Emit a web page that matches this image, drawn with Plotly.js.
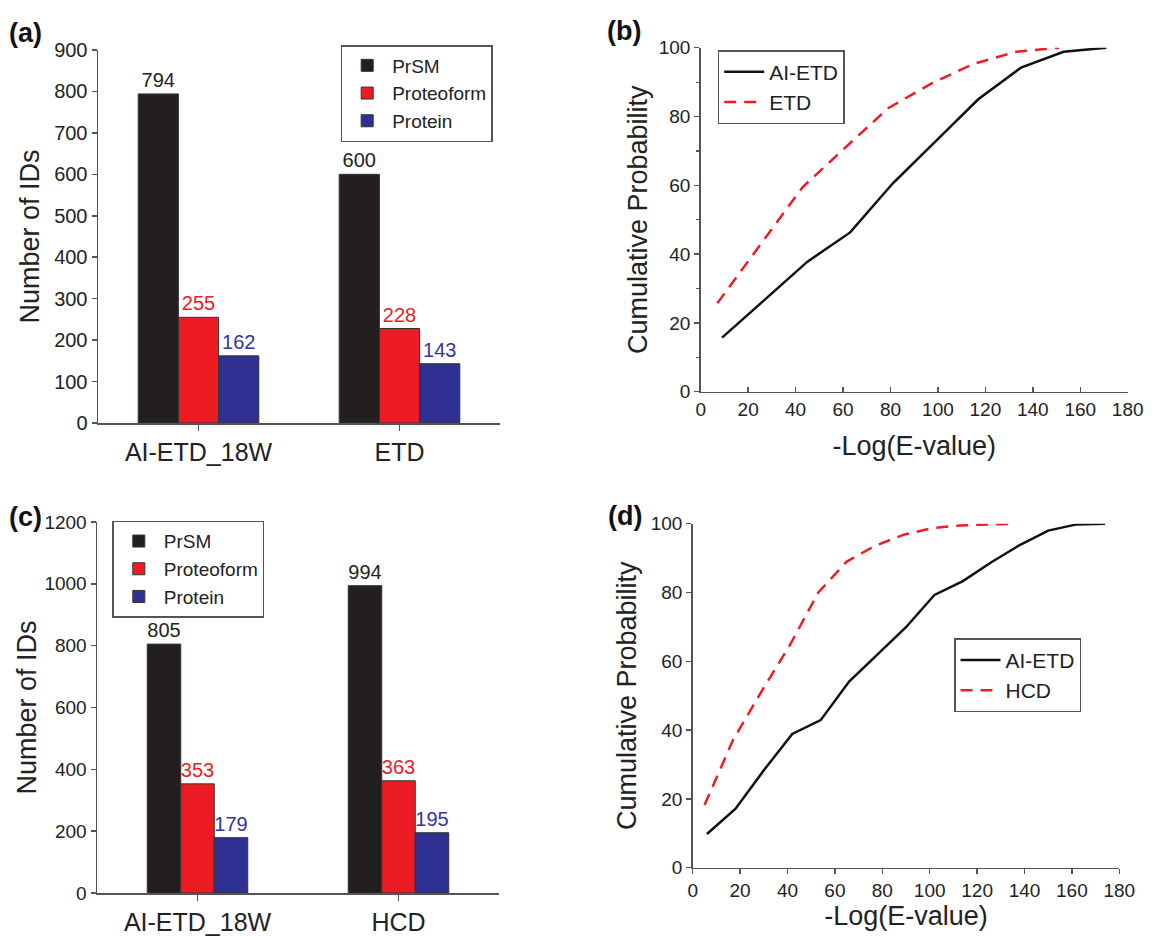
<!DOCTYPE html>
<html>
<head>
<meta charset="utf-8">
<script src="https://cdn.plot.ly/plotly-3.0.1.min.js"></script>
<style>html,body{margin:0;padding:0;background:#fff;}#chart{width:1152px;height:937px;}</style>
</head>
<body>
<div id="chart"></div>
<script>
// ---- Data: panels (a) and (c) bar counts ----
const catsA = ['AI-ETD_18W', 'ETD'];
const prsmA = [794, 600];
const proteoformA = [255, 228];
const proteinA = [162, 143];

const catsC = ['AI-ETD_18W', 'HCD'];
const prsmC = [805, 994];
const proteoformC = [353, 363];
const proteinC = [179, 195];

// ---- Data: panel (b) cumulative probability ----
const bAietdX = [9, 27, 45, 63, 81, 99, 117, 135, 153, 171];
const bAietdY = [15.7, 26.8, 37.8, 46.3, 60.6, 72.8, 85.0, 94.2, 98.8, 100];
const bEtdX = [7, 25, 43, 61, 79, 97, 115, 133, 151];
const bEtdY = [25.7, 42.6, 59.5, 71.0, 82.4, 89.5, 95.3, 98.8, 100];

// ---- Data: panel (d) cumulative probability ----
const dAietdX = [6, 18, 30, 42, 54, 66, 78, 90, 102, 114, 126, 138, 150, 162, 174];
const dAietdY = [9.8, 17.1, 28.3, 38.9, 42.9, 54.1, 62.0, 69.9, 79.3, 83.3, 88.8, 93.8, 98.0, 99.8, 100];
const dHcdX = [5, 17, 29, 41, 53, 65, 77, 89, 101, 113, 125, 136];
const dHcdY = [18.2, 37.1, 51.2, 64.7, 80.0, 89.0, 93.6, 96.8, 98.7, 99.5, 99.8, 100];

const FONT = 'Liberation Sans, Arial, Helvetica, sans-serif';
const BLACK = '#231f20', RED = '#ed1c24', BLUE = '#2e3192';
const W = 1152, H = 937;

function barTrace(cats, vals, name, color, textColor, xa, ya, lg, width, offset) {
  return {
    type: 'bar', x: cats, y: vals, name: name, xaxis: xa, yaxis: ya, legend: lg,
    width: width, offset: offset,
    marker: {color: color, line: {color: '#333', width: 1}},
    text: vals.map(String), textposition: 'outside', constraintext: 'none', cliponaxis: false,
    textfont: {family: FONT, size: 20, color: textColor}, hoverinfo: 'x+y'
  };
}

const traces = [
  barTrace(catsA, prsmA, 'PrSM', BLACK, BLACK, 'x', 'y', 'legend', 0.2, -0.3),
  barTrace(catsA, proteoformA, 'Proteoform', RED, RED, 'x', 'y', 'legend', 0.2, -0.1),
  barTrace(catsA, proteinA, 'Protein', BLUE, '#34349c', 'x', 'y', 'legend', 0.2, 0.1),
  barTrace(catsC, prsmC, 'PrSM', BLACK, BLACK, 'x3', 'y3', 'legend3', 1/6, -0.25),
  barTrace(catsC, proteoformC, 'Proteoform', RED, RED, 'x3', 'y3', 'legend3', 1/6, -1/12),
  barTrace(catsC, proteinC, 'Protein', BLUE, '#34349c', 'x3', 'y3', 'legend3', 1/6, 1/12),
  {type: 'scatter', mode: 'lines', x: bAietdX, y: bAietdY, name: 'AI-ETD', xaxis: 'x2', yaxis: 'y2', legend: 'legend2',
   line: {color: '#111', width: 2.5}},
  {type: 'scatter', mode: 'lines', x: bEtdX, y: bEtdY, name: 'ETD', xaxis: 'x2', yaxis: 'y2', legend: 'legend2',
   line: {color: '#ee1c25', width: 2.5, dash: '12px,8px'}},
  {type: 'scatter', mode: 'lines', x: dAietdX, y: dAietdY, name: 'AI-ETD', xaxis: 'x4', yaxis: 'y4', legend: 'legend4',
   line: {color: '#111', width: 2.5}},
  {type: 'scatter', mode: 'lines', x: dHcdX, y: dHcdY, name: 'HCD', xaxis: 'x4', yaxis: 'y4', legend: 'legend4',
   line: {color: '#ee1c25', width: 2.5, dash: '12px,8px'}}
];

function axisBase(extra) {
  return Object.assign({
    showline: true, linecolor: '#555', linewidth: 1.5, mirror: false,
    ticks: 'outside', ticklen: 5, tickwidth: 1.5, tickcolor: '#555',
    showgrid: false, zeroline: false, fixedrange: true,
    tickfont: {family: FONT, size: 20, color: '#222'}
  }, extra);
}
const px = v => v / W;
const py = v => 1 - v / H;

function legendBox(x, y, size) {
  return {x: x, y: y, xanchor: 'left', yanchor: 'top', bgcolor: '#fff', bordercolor: '#555', borderwidth: 1.5,
    font: {family: FONT, size: size, color: '#222'}, tracegroupgap: 0, itemwidth: 40, traceorder: 'normal'};
}

const titleFont = {family: FONT, size: 27, color: '#222'};

const layout = {
  width: W, height: H, margin: {l: 0, r: 0, t: 0, b: 0}, paper_bgcolor: '#fff', plot_bgcolor: '#fff',
  font: {family: FONT, color: '#222'},
  barmode: 'group', showlegend: true,
  // (a)
  xaxis: axisBase({anchor: 'y', domain: [px(98), px(500)], type: 'category', range: [-0.5, 1.5], ticklen: 6,
    tickfont: {family: FONT, size: 25, color: '#222'}}),
  yaxis: axisBase({anchor: 'x', domain: [py(423), py(50)], range: [0, 900], dtick: 100,
    title: {text: 'Number of IDs', font: titleFont, standoff: 6}}),
  // (b)
  xaxis2: axisBase({anchor: 'y2', domain: [px(700.7), px(1127.7)], range: [0, 180], dtick: 20, ticks: 'inside',
    tickfont: {family: FONT, size: 19, color: '#222'},
    title: {text: '-Log(E-value)', font: titleFont, standoff: 17}}),
  yaxis2: axisBase({anchor: 'x2', domain: [py(391.7), py(47.7)], range: [0, 100], dtick: 20,
    tickfont: {family: FONT, size: 19, color: '#222'},
    minor: {ticks: 'outside', dtick: 10, ticklen: 3, tickwidth: 1.2, tickcolor: '#555'},
    title: {text: 'Cumulative Probability', font: titleFont, standoff: 3}}),
  // (c)
  xaxis3: axisBase({anchor: 'y3', domain: [px(97), px(499)], type: 'category', range: [-0.5, 1.5], ticklen: 6,
    tickfont: {family: FONT, size: 25, color: '#222'}}),
  yaxis3: axisBase({anchor: 'x3', domain: [py(893), py(522)], range: [0, 1200], dtick: 200,
    tickfont: {family: FONT, size: 19, color: '#222'},
    title: {text: 'Number of IDs', font: titleFont, standoff: 0}}),
  // (d)
  xaxis4: axisBase({anchor: 'y4', domain: [px(692.7), px(1119.3)], range: [0, 180], dtick: 20,
    tickfont: {family: FONT, size: 19, color: '#222'},
    title: {text: '-Log(E-value)', font: titleFont, standoff: 6}}),
  yaxis4: axisBase({anchor: 'x4', domain: [py(867.7), py(523.7)], range: [0, 100], dtick: 20,
    tickfont: {family: FONT, size: 19, color: '#222'},
    title: {text: 'Cumulative Probability', font: titleFont, standoff: 6}}),
  legend: legendBox(px(340.7), py(45), 19),
  legend2: legendBox(px(717.7), py(50), 21),
  legend3: legendBox(px(112.3), py(520.7), 19),
  legend4: legendBox(px(954), py(638.3), 21),
  annotations: [
    {text: '<b>(a)</b>', x: px(25), y: py(33)},
    {text: '<b>(b)</b>', x: px(624), y: py(31)},
    {text: '<b>(c)</b>', x: px(25), y: py(517)},
    {text: '<b>(d)</b>', x: px(625), y: py(516)}
  ].map(a => Object.assign(a, {xref: 'paper', yref: 'paper', xanchor: 'center', yanchor: 'middle',
    showarrow: false, font: {family: FONT, size: 27, color: '#111'}}))
};

Plotly.newPlot('chart', traces, layout, {staticPlot: true, displayModeBar: false});
</script>
</body>
</html>
